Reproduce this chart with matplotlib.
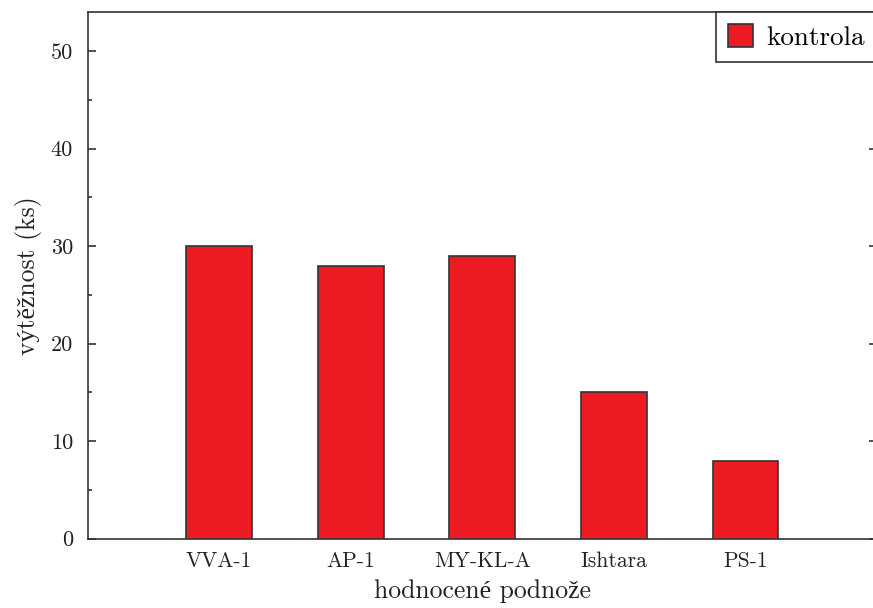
import matplotlib
matplotlib.use("Agg")
import matplotlib.pyplot as plt
from matplotlib.ticker import MultipleLocator

categories = ["VVA-1", "AP-1", "MY-KL-A", "Ishtara", "PS-1"]
values = [30, 28, 29, 15, 8]
series_name = "kontrola"
xlabel = "hodnocené podnože"
ylabel = "výtěžnost (ks)"

plt.rcParams['font.family'] = ['cmr10', 'Liberation Serif', 'DejaVu Serif']
plt.rcParams['mathtext.fontset'] = 'cm'
plt.rcParams['axes.unicode_minus'] = False

fig = plt.figure(figsize=(8.73, 6.08), dpi=100)
ax = fig.add_axes([87.5/873, 69.5/608, 789.5/873, 526.5/608])

pos = list(range(1, len(categories) + 1))
ax.bar(pos, values, width=0.5, color="#ED1C24", edgecolor="#333333",
       linewidth=1.2, label=series_name, zorder=3)

ax.set_xlim(0, 6)
ax.set_ylim(0, 54)
ax.set_xticks(pos)
ax.set_xticklabels(categories)
ax.yaxis.set_major_locator(MultipleLocator(10))
ax.yaxis.set_minor_locator(MultipleLocator(5))

ax.tick_params(axis='x', length=0, pad=9.5, labelsize=15.5, colors="#222222")
ax.tick_params(axis='y', which='major', direction='in', length=6, width=1.1,
               pad=10.5, labelsize=16, left=True, right=True, colors="#222222")
ax.tick_params(axis='y', which='minor', direction='in', length=3, width=1.1,
               left=True, right=True, colors="#222222")

for s in ax.spines.values():
    s.set_color("#333333")
    s.set_linewidth(1.2)

ax.set_xlabel(xlabel, fontsize=18.5, labelpad=6, color="#222222")
ax.set_ylabel(ylabel, fontsize=18.5, labelpad=6, color="#222222")

leg = ax.legend(loc='upper right', borderaxespad=0, fontsize=19.5,
                fancybox=False, edgecolor="#333333", framealpha=1,
                handlelength=0.9, handleheight=0.9, handletextpad=0.5,
                borderpad=0.45)
leg.get_frame().set_linewidth(1.2)

fig.savefig("out.png", dpi=100)
